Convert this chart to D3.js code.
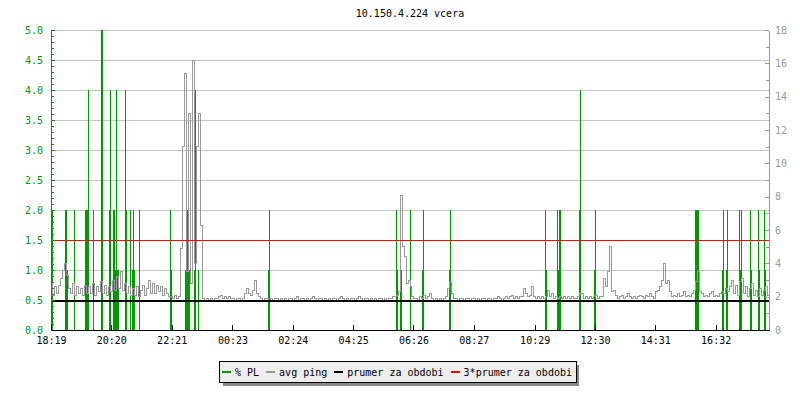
<!DOCTYPE html>
<html>
<head>
<meta charset="utf-8">
<script src="https://cdn.jsdelivr.net/npm/d3@7/dist/d3.min.js"></script>
<style>
  body { margin: 0; background: #fff; }
  text { font-family: "DejaVu Sans Mono", monospace; font-size: 10px; }
</style>
</head>
<body>
<div id="chart"></div>
<script>

// period: one day starting at 18:19
var title = "10.150.4.224 vcera";
var startTime = "18:19";
var periodMinutes = 1440;
var tickLabels = ["18:19", "20:20", "22:21", "00:23", "02:24", "04:25",
                  "06:26", "08:27", "10:29", "12:30", "14:31", "16:32"];

// avg ping (ms, right axis), one sample every 4 minutes
var pingStep = 4;
var avgPing = [
  2.8,2.1,2.6,2.2,2.7,3.1,3.6,4.0,3.3,2.5,2.2,2.8,2.1,2.6,2.2,2.5,2.1,2.7,2.2,2.6,
  2.2,2.8,2.1,2.6,2.3,2.9,2.2,2.7,2.1,2.6,2.3,3.0,2.4,3.2,2.5,3.5,2.4,2.8,2.2,2.6,
  2.1,2.5,2.1,2.6,2.0,2.4,2.7,2.1,2.5,3.0,2.2,2.8,2.2,2.7,2.3,2.6,2.1,2.5,2.2,2.0,
  2.0,1.9,2.1,1.9,2.0,4.9,11.0,15.4,3.5,13.0,2.8,16.2,4.0,11.0,13.0,6.3,1.9,1.8,1.9,1.8,
  1.9,1.8,1.9,1.9,2.0,2.1,1.9,2.0,1.9,2.0,1.9,1.9,1.8,1.9,1.9,1.8,1.9,2.2,2.5,2.2,
  2.1,2.4,3.0,2.2,2.0,1.9,1.8,1.9,1.9,1.8,1.9,1.8,1.9,1.9,1.8,1.9,1.8,1.9,1.8,1.9,
  1.9,1.8,1.9,2.0,1.8,1.9,1.9,1.8,1.9,1.8,1.9,2.0,1.9,1.8,1.9,1.9,1.8,1.9,1.8,1.9,
  1.8,1.9,1.9,1.8,1.9,2.0,1.9,1.8,1.9,1.8,1.9,1.9,1.8,1.9,2.0,1.9,1.8,1.9,1.9,1.8,
  1.9,1.8,1.9,1.8,1.9,1.9,1.8,1.9,1.8,1.9,1.9,2.0,2.0,2.1,2.3,8.1,5.0,4.4,2.8,3.0,
  2.6,2.0,1.9,1.9,1.8,2.0,1.9,2.1,1.9,2.0,2.2,1.9,1.8,1.9,1.8,1.9,1.8,1.9,2.0,2.5,
  2.9,2.2,1.9,1.9,1.8,1.9,1.9,1.8,1.9,1.9,1.8,1.9,1.9,1.8,1.9,1.8,1.9,1.9,1.8,1.9,
  1.9,1.8,1.9,1.9,2.0,1.9,1.8,1.9,2.0,1.9,2.0,2.1,1.9,2.0,1.9,2.0,2.0,2.5,2.2,2.0,
  2.1,2.6,2.0,1.9,2.0,1.9,2.0,1.9,2.0,2.4,2.0,2.2,1.9,2.0,1.9,2.0,1.9,2.0,1.9,2.0,
  1.9,2.0,1.9,1.9,2.0,2.2,2.2,1.9,2.0,1.9,2.0,1.9,2.0,2.1,1.9,2.0,2.0,3.1,2.6,3.5,
  5.0,2.3,2.4,2.1,1.9,2.0,2.1,1.9,2.0,2.2,2.0,1.9,2.0,1.9,2.0,2.1,2.0,1.9,2.1,2.0,
  2.2,2.0,1.9,2.3,2.4,2.6,3.0,4.0,2.8,3.0,2.3,2.0,2.1,2.0,2.2,2.0,2.1,2.3,2.0,2.1,
  2.0,2.2,2.4,2.9,3.5,2.3,2.2,2.0,2.1,2.0,2.2,2.3,2.0,2.1,2.0,2.2,2.3,2.2,2.5,2.3,
  2.6,3.0,2.2,2.7,2.1,2.9,3.1,2.2,2.6,2.0,2.5,2.8,2.1,2.4,2.0,2.5,2.1,2.4,2.6,2.1
];

// packet loss (% , left axis): minutes after start, value
var plMinutes = [0,2,4,30,32,34,48,70,72,74,76,86,102,104,118,120,126,128,130,132,134,136,
                 150,152,160,164,166,168,178,240,242,270,272,274,276,278,288,290,296,436,438,
                 692,694,700,702,720,722,746,748,800,802,992,994,1016,1018,1020,1022,1060,1062,
                 1090,1092,1292,1294,1296,1298,1346,1348,1354,1356,1380,1382,1384,1402,1404,
                 1418,1420,1430,1432];
var plValues  = [2,1,2,2,2,1,2,2,2,2,4,2,5,5,2,4,2,2,1,4,1,1,
                 4,2,2,1,2,1,2,2,1,1,1,2,1,1,1,4,1,1,2,
                 2,1,1,1,2,1,1,2,1,2,2,1,2,1,2,2,2,4,
                 1,2,2,2,2,2,1,2,1,2,2,1,2,2,1,
                 2,1,2,1];

// period average of ping
var prumer = 1.8;

var legendNames = ["% PL", "avg ping", "prumer za obdobi", "3*prumer za obdobi"];
var legendColors = ["#009900", "#999999", "#000000", "#ff0000"];

var margin = {top: 30, right: 30, bottom: 70, left: 51},
    width = 800 - margin.left - margin.right - 1,
    height = 400 - margin.top - margin.bottom;

var svgRoot = d3.select("#chart")
  .append("svg")
    .attr("width", 800)
    .attr("height", 400);

svgRoot.append("rect").attr("width", 800).attr("height", 400).attr("fill", "#fff");

svgRoot.append("text")
  .attr("x", margin.left + width / 2)
  .attr("y", 17)
  .attr("text-anchor", "middle")
  .attr("fill", "#000")
  .text(title);

var svg = svgRoot.append("g")
  .attr("transform", `translate(${margin.left}, ${margin.top})`)
  .attr("shape-rendering", "crispEdges");

function toMinutes(s) {
  var p = s.split(":"), q = startTime.split(":");
  var m = (+p[0] * 60 + +p[1]) - (+q[0] * 60 + +q[1]);
  return m < 0 ? m + 1440 : m;
}

var x = d3.scaleLinear().domain([0, periodMinutes]).range([0, width]);
var yL = d3.scaleLinear().domain([0, 5]).range([height, 0]);
var yR = d3.scaleLinear().domain([0, 18]).range([height, 0]);

// grid
svg.selectAll(".grid")
  .data(d3.range(1, 11).map(d => d * 0.5))
  .join("line")
    .attr("x1", 0).attr("x2", width)
    .attr("y1", d => Math.round(yL(d)) + 0.5)
    .attr("y2", d => Math.round(yL(d)) + 0.5)
    .attr("stroke", "#c4c4c4");

// packet loss bars
svg.selectAll(".pl")
  .data(plMinutes.map((m, i) => ({m: m, v: plValues[i]})))
  .join("line")
    .attr("x1", d => Math.floor(x(d.m)) + 0.5)
    .attr("x2", d => Math.floor(x(d.m)) + 0.5)
    .attr("y1", yL(0))
    .attr("y2", d => yL(d.v))
    .attr("stroke", "#009900");

// ping line
var pts = avgPing.map((v, i) => [i * pingStep, v]);
pts.push([periodMinutes, avgPing[avgPing.length - 1]]);
svg.append("path")
  .datum(pts)
  .attr("fill", "none")
  .attr("stroke", "#999999")
  .attr("d", d3.line().x(d => x(d[0])).y(d => yR(d[1])).curve(d3.curveStepAfter));

// average lines
svg.append("line")
  .attr("x1", 0).attr("x2", width)
  .attr("y1", yR(prumer) + 0.5).attr("y2", yR(prumer) + 0.5)
  .attr("stroke", "#000").attr("stroke-width", 2);
svg.append("line")
  .attr("x1", 0).attr("x2", width)
  .attr("y1", Math.round(yR(3 * prumer)) + 0.5).attr("y2", Math.round(yR(3 * prumer)) + 0.5)
  .attr("stroke", "#ff0000");

// left axis (% PL)
var leftMinor = svg.append("g")
  .call(d3.axisLeft(yL).tickValues(d3.range(0, 51).map(d => d / 10)).tickSize(-3).tickFormat(""));
leftMinor.select(".domain").remove();
leftMinor.selectAll("line").attr("stroke", "#009900");
var left = svg.append("g")
  .call(d3.axisLeft(yL).tickValues(d3.range(0, 11).map(d => d * 0.5))
    .tickSize(-4).tickSizeOuter(0).tickPadding(8).tickFormat(d3.format(".1f")));
left.selectAll("line, path").attr("stroke", "#009900");
left.selectAll("text").attr("fill", "#009900").style("font-size", "10px").style("font-family", null);

// right axis (ping)
var rightMinor = svg.append("g")
  .attr("transform", `translate(${width}, 0)`)
  .call(d3.axisRight(yR).tickValues(d3.range(1, 18, 2)).tickSize(-3).tickFormat(""));
rightMinor.select(".domain").remove();
rightMinor.selectAll("line").attr("stroke", "#999999");
var right = svg.append("g")
  .attr("transform", `translate(${width}, 0)`)
  .call(d3.axisRight(yR).tickValues(d3.range(0, 19, 2)).tickSize(-4).tickSizeOuter(0).tickPadding(6));
right.selectAll("line, path").attr("stroke", "#999999");
right.selectAll("text").attr("fill", "#999999").style("font-size", "10px").style("font-family", null);

// bottom axis (time)
var bottom = svg.append("g")
  .attr("transform", `translate(0, ${height})`)
  .call(d3.axisBottom(x).tickValues(tickLabels.map(toMinutes))
    .tickFormat((d, i) => tickLabels[i]).tickSize(-5).tickSizeOuter(0).tickPadding(7));
bottom.selectAll("line, path").attr("stroke", "#000");
bottom.selectAll("text").attr("fill", "#000").style("font-size", "10px").style("font-family", null);

// legend
var lx = 219, ly = 361, lh = 21;
var legend = svgRoot.append("g").attr("shape-rendering", "crispEdges");
var shadow = legend.append("rect");
var box = legend.append("rect");
var cx = lx + 3;
legendNames.forEach(function(name, i) {
  legend.append("line")
    .attr("x1", cx).attr("x2", cx + 9)
    .attr("y1", ly + 11).attr("y2", ly + 11)
    .attr("stroke", legendColors[i]).attr("stroke-width", 2);
  var t = legend.append("text")
    .attr("x", cx + 13).attr("y", ly + 14.5)
    .attr("fill", "#000")
    .text(name);
  cx += 13 + t.node().getComputedTextLength() + 7;
});
var lw = cx - lx - 3;
shadow.attr("x", lx + 3.5).attr("y", ly + 3.5).attr("width", lw).attr("height", lh).attr("fill", "#888");
box.attr("x", lx + 0.5).attr("y", ly + 0.5).attr("width", lw).attr("height", lh)
  .attr("fill", "#eeeeee").attr("stroke", "#000");

</script>
</body>
</html>
